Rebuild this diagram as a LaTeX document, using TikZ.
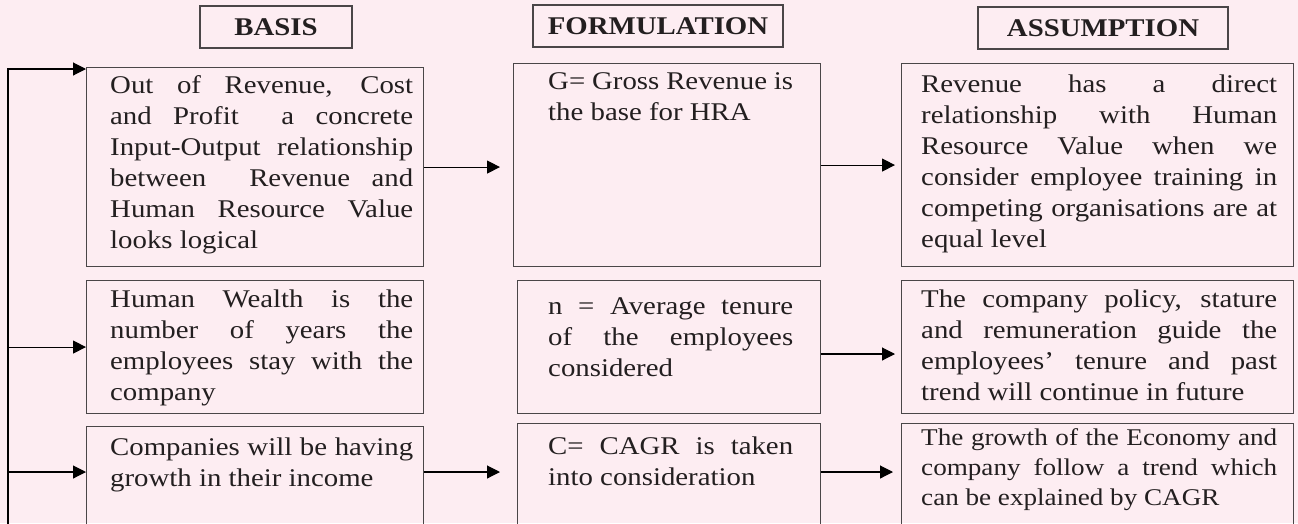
\documentclass[tikz,border=0pt]{standalone}
\usepackage{fontspec}
\setmainfont{Liberation Serif}[FakeStretch=1.13]
\usetikzlibrary{arrows.meta,positioning}

\definecolor{bgpink}{RGB}{253,237,242}
\definecolor{linegray}{RGB}{74,70,72}
\definecolor{textgray}{RGB}{35,31,32}
\newcommand{\bodyfont}{\fontsize{25.5}{31}\selectfont}
\newcommand{\smallbody}{\fontsize{24}{30}\selectfont}
\newcommand{\headfont}{\fontsize{25.5}{28}\selectfont\bfseries}

\begin{document}
\begin{tikzpicture}[x=1pt,y=-1pt,>={Triangle[length=13pt,width=13pt]},
			head/.style = {draw=linegray, line width=1.1pt, inner sep=0pt, font=\headfont,
				text=textgray, text height=17pt, text depth=0pt, minimum height=42pt},
			frame/.style = {draw=linegray, line width=1.1pt, anchor=north west, inner sep=0pt},
			txt/.style = {inner sep=0pt, align=justify, font=\bodyfont, text=textgray},
			link/.style = {->, draw=black, line width=1.1pt}
			]
			\path[use as bounding box, fill=bgpink] (0,0) rectangle (1298,523);
			\clip (0,0) rectangle (1298,523);
			% column heads
			\node [head, minimum width=152pt] (hbasis) at (276,27) {BASIS};
			\node [head, minimum width=250pt] (hform) at (658,26) {FORMULATION};
			\node [head, minimum width=250pt] (hassum) at (1103,28) {ASSUMPTION};
			% boxes
			\node [frame, minimum width=337pt, minimum height=199pt] (revenue) at (86,67) {};
			\node [frame, minimum width=307pt, minimum height=203pt] (gross) at (513,63) {};
			\node [frame, minimum width=392pt, minimum height=203pt] (direct) at (901,63) {};
			\node [frame, minimum width=337pt, minimum height=133pt] (wealth) at (86,280) {};
			\node [frame, minimum width=303pt, minimum height=133pt] (tenure) at (517,280) {};
			\node [frame, minimum width=392pt, minimum height=133pt] (policy) at (901,280) {};
			\node [frame, minimum width=337pt, minimum height=130pt] (growth) at (86,426) {};
			\node [frame, minimum width=303pt, minimum height=130pt] (cagr) at (517,423) {};
			\node [frame, minimum width=392pt, minimum height=130pt] (economy) at (901,423) {};
			% texts
			\node [txt, text width=303pt, below right=26pt and 24pt of revenue.north west, anchor=base west] (revenueText)
				{Out of Revenue, Cost\linebreak and Profit \ a concrete\linebreak Input-Output relationship\linebreak between \ Revenue and\linebreak Human Resource Value\linebreak looks logical};
			\node [txt, text width=245pt, below right=26pt and 35pt of gross.north west, anchor=base west] (grossText)
				{G= Gross Revenue is\linebreak the base for HRA};
			\node [txt, text width=356pt, below right=29pt and 20pt of direct.north west, anchor=base west] (directText)
				{Revenue has a direct\linebreak relationship with Human\linebreak Resource Value when we\linebreak consider employee training in\linebreak competing organisations are at\linebreak equal level};
			\node [txt, text width=303pt, below right=27pt and 24pt of wealth.north west, anchor=base west] (wealthText)
				{Human Wealth is the\linebreak number of years the\linebreak employees stay with the\linebreak company};
			\node [txt, text width=245pt, below right=34pt and 31pt of tenure.north west, anchor=base west] (tenureText)
				{n = Average tenure\linebreak of the employees\linebreak considered};
			\node [txt, text width=356pt, below right=27pt and 20pt of policy.north west, anchor=base west] (policyText)
				{The company policy, stature\linebreak and remuneration guide the\linebreak employees’ tenure and past\linebreak trend will continue in future};
			\node [txt, text width=303pt, below right=29pt and 24pt of growth.north west, anchor=base west] (growthText)
				{Companies will be having\linebreak growth in their income};
			\node [txt, text width=245pt, below right=31pt and 31pt of cagr.north west, anchor=base west] (cagrText)
				{C= CAGR is taken\linebreak into consideration};
			\node [txt, font=\smallbody, text width=356pt, below right=22pt and 20pt of economy.north west, anchor=base west] (economyText)
				{The growth of the Economy and\linebreak company follow a trend which\linebreak can be explained by CAGR};
			% connectors
			\coordinate (feed) at (8,540);
			\coordinate (row2) at (0,354);
			\coordinate (row3) at (0,472);
			\draw[link] (feed) |- ([yshift=-2pt]revenue.north west);
			\draw[link] (feed |- wealth.west) -- (wealth.west);
			\draw[link] (feed |- row3) -- (growth.west |- row3);
			\draw[link, shorten >=13pt] (revenue.east) -- (revenue.east -| gross.west);
			\draw[link, shorten >=6pt] (gross.east) -- (gross.east -| direct.west);
			\draw[link, shorten >=6pt] (tenure.east |- row2) -- (policy.west |- row2);
			\draw[link, shorten >=17pt] (growth.east |- row3) -- (cagr.west |- row3);
			\draw[link, shorten >=8pt] (cagr.east |- row3) -- (economy.west |- row3);
		\end{tikzpicture}
\end{document}
